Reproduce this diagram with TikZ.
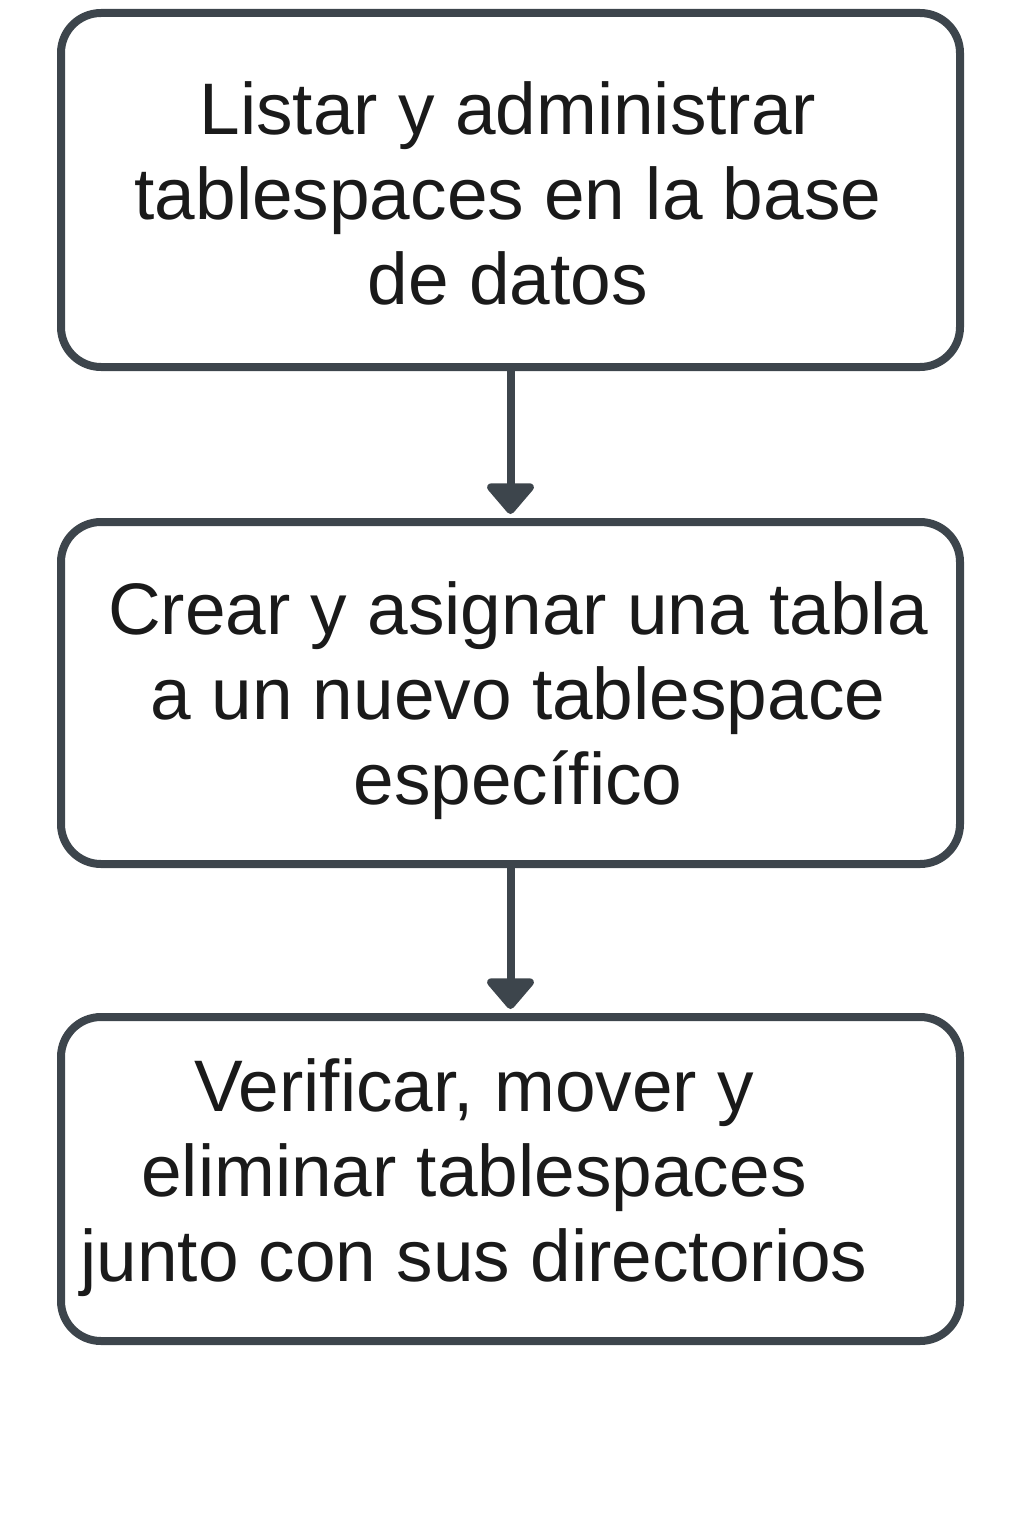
\documentclass[tikz,border=0pt]{standalone}
\usepackage{fontspec}
\setmainfont{Liberation Sans}
\usetikzlibrary{arrows.meta}
\definecolor{boxgray}{HTML}{3D454C}
\definecolor{inkgray}{HTML}{1A1A1A}

\begin{document}
\begin{tikzpicture}[x=1pt,y=-1pt,
  stepbox/.style={draw=boxgray, line width=8pt, rounded corners=40pt,
    minimum width=899pt, inner sep=0pt},
  steptext/.style={align=center, text=inkgray, inner sep=0pt,
    font=\fontsize{73}{85}\selectfont},
  flow/.style={draw=boxgray, line width=8pt,
    -{Triangle[width=54pt,length=33pt,round]}, shorten >=4pt}]
\useasboundingbox (0,0) rectangle (1024,1536);
% the three steps
\node[stepbox, minimum height=354pt] (listar) at (510.5,190) {};
\node[stepbox, minimum height=342pt] (crear) at (510.5,693) {};
\node[stepbox, minimum height=324pt] (verificar) at (510.5,1179) {};
\node[steptext] (listartxt) at (508,193) {Listar y administrar\\tablespaces en la base\\de datos};
\node[steptext] (creartxt) at (518,701) {Crear y asignar una tabla\\a un nuevo tablespace\\específico};
\node[steptext] (verificartxt) at (474,1178) {Verificar, mover y\\eliminar tablespaces\\junto con sus directorios};
% arrows
\draw[flow] (listar.south) -- (crear.north);
\draw[flow] (crear.south) -- (verificar.north);
\end{tikzpicture}
\end{document}
